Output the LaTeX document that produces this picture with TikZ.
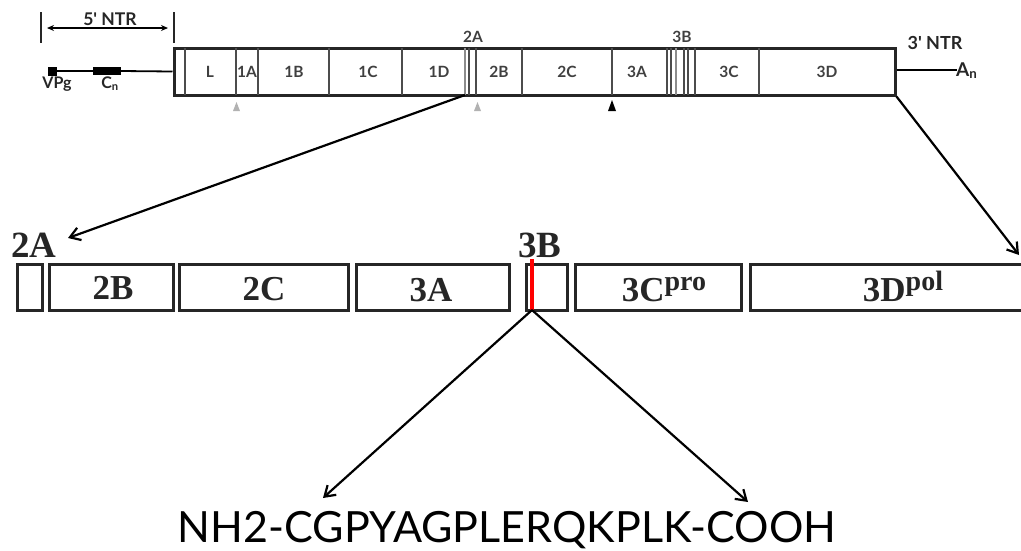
\documentclass[tikz,border=0pt]{standalone}
\usepackage{fontspec}
\setmainfont{Liberation Serif}
\newfontfamily\gill{Lato}
\usetikzlibrary{arrows.meta}
\begin{document}
\begin{tikzpicture}[x=1pt,y=-1pt,
  bar/.style={draw=black!85, line width=3pt, minimum width=721pt, minimum height=47pt, inner sep=0pt},
  sep/.style={draw=black!70, line width=1.6pt},
  seglab/.style={font=\gill\bfseries\fontsize{15.5}{15.5}\selectfont, text=black!75, inner sep=0pt, anchor=base},
  smalllab/.style={font=\gill\bfseries\fontsize{16}{16}\selectfont, text=black!85, inner sep=0pt, anchor=base},
  pbox/.style={draw=black!85, line width=3pt, minimum height=46pt, inner sep=0pt},
  plab/.style={font=\bfseries\fontsize{35}{35}\selectfont, text=black!85, inner sep=0pt, anchor=base},
  toplab/.style={font=\bfseries\fontsize{37}{37}\selectfont, text=black!85, inner sep=0pt, anchor=base},
  conn/.style={line width=2.2pt, -{Straight Barb[length=10pt,width=13pt,line width=2.2pt]}},
]
\useasboundingbox (0,0) rectangle (1021,550);

% ---------- genome (top) ----------
\node[bar] (genome) at (534.5,71.5) {};
\foreach \x in {185,236,258,329,402,469,476,522,612,667,671,684,688,695,759}
  \draw[sep] (\x,48) -- (\x,95);
\draw[draw=black!45, line width=2.4pt] (465,48) -- (465,95);
\draw[draw=black!45, line width=2pt] (676,48) -- (676,95);

\node[seglab] (sL)  at (210,77) {L};
\node[seglab] (s1A) at (247,77) {1A};
\node[seglab] (s1B) at (294,77) {1B};
\node[seglab] (s1C) at (368,77) {1C};
\node[seglab] (s1D) at (439,77) {1D};
\node[seglab] (s2B) at (499,77) {2B};
\node[seglab] (s2C) at (567,77) {2C};
\node[seglab] (s3A) at (637,77) {3A};
\node[seglab] (s3C) at (729,77) {3C};
\node[seglab] (s3D) at (827,77) {3D};
\node[seglab] (t2A) at (473,42) {2A};
\node[seglab] (t3B) at (682,42) {3B};

% cleavage triangles
\fill[black!30] (233,111) -- (240,111) -- (236.5,102) -- cycle;
\fill[black!30] (474,111) -- (481,111) -- (477.5,102) -- cycle;
\fill[black] (608,111) -- (616,111) -- (612,100) -- cycle;

% 5' NTR
\draw[line width=1.8pt, black!85] (41,12) -- (41,43);
\draw[line width=1.8pt, black!85] (174,12) -- (174,43);
\draw[line width=1.4pt, {Stealth[length=7pt,width=6pt]}-{Stealth[length=7pt,width=6pt]}] (47,28) -- (168,28);
\node[smalllab, font=\gill\bfseries\fontsize{17.5}{17.5}\selectfont] (ntr5) at (110,25) {5' NTR};

\node[fill=black, minimum width=9pt, minimum height=9pt, inner sep=0pt] (vpg) at (52.5,71) {};
\node[fill=black, minimum width=28pt, minimum height=8pt, inner sep=0pt] (cn) at (107,71) {};
\draw[line width=1.8pt] (vpg.east) -- (cn.west);
\draw[line width=1.8pt] (cn.east) -- (genome.west);
\node[smalllab] (vpglab) at (57,88) {VPg};
\node[smalllab] (cnlab) at (110,88) {C\textsubscript{n}};

% 3' NTR
\node[smalllab, font=\gill\bfseries\fontsize{18}{18}\selectfont] (ntr3) at (935,49) {3' NTR};
\coordinate (tail) at (957,70);
\draw[line width=1.8pt] (genome.east |- tail) -- (tail);
\node[smalllab, font=\gill\bfseries\fontsize{19}{19}\selectfont, anchor=base west] (an) at (956,76) {A\textsubscript{n}};

% ---------- P2/P3 polyprotein (middle) ----------
\node[pbox, minimum width=25pt] (b2A) at (29.5,287) {};
\node[pbox, minimum width=124pt] (b2B) at (111,287) {};
\node[pbox, minimum width=169pt] (b2C) at (263.5,287) {};
\node[pbox, minimum width=153pt] (b3A) at (432.5,287) {};
\node[pbox, minimum width=41pt] (b3B) at (546.5,287) {};
\node[pbox, minimum width=166pt] (b3C) at (658,287) {};
\node[pbox, minimum width=290pt] (b3D) at (895,287) {};

\node[plab] (t2B) at (113,299) {2B};
\node[plab] (t2C) at (264,300) {2C};
\node[plab] (t3A) at (431,301) {3A};
\node[plab] (t3C) at (664,301) {3C\raisebox{11pt}{\fontsize{28}{28}\selectfont pro}};
\node[plab] (t3D) at (903,301) {3D\raisebox{11pt}{\fontsize{28}{28}\selectfont pol}};
\node[toplab] (l2A) at (34,257) {2A};
\node[toplab] (l3B) at (540,257) {3B};

\coordinate (vtop) at (532,259);
\coordinate (vbot) at (532,310);
\draw[red, line width=3.4pt] (vtop) -- (vbot);

% ---------- expansion arrows ----------
\coordinate (g2A) at (465,95);
\coordinate (e2A) at (68,238);
\coordinate (e3D) at (1019,255);
\draw[conn] (g2A) -- (e2A);
\draw[conn] (genome.south east) -- (e3D);

% ---------- 3B peptide ----------
\node[font=\gill\fontsize{43}{43}\selectfont, inner sep=0pt, anchor=base] (pep) at (507,542) {NH2-CGPYAGPLERQKPLK-COOH};
\coordinate (pl) at (323,498);
\coordinate (pr) at (748,502);
\draw[conn] (vbot) -- (pl);
\draw[conn] (vbot) -- (pr);
\end{tikzpicture}
\end{document}
